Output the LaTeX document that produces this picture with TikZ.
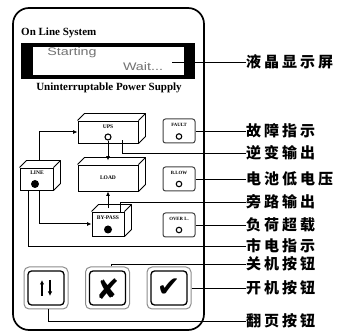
\documentclass[tikz,border=0pt]{standalone}
\usepackage{fontspec}
\setmainfont{Liberation Serif}
\newfontfamily\cjk[LetterSpace=20]{Noto Sans CJK SC}
\newfontfamily\lcdfont[FakeStretch=1.3]{Liberation Sans}
\newfontfamily\symfont{DejaVu Sans}
\usetikzlibrary{calc,arrows.meta}
\newcommand\cubesides[1]{%
  \draw[cubeline] (#1.north west) -- ++(7,-7) -- ($(#1.north east)+(7,-7)$) -- ($(#1.south east)+(7,-7)$) -- (#1.south east);
  \draw[cubeline] (#1.north east) -- ++(7,-7);}
\begin{document}
\begin{tikzpicture}[x=1pt,y=-1pt,
  cube/.style={draw, line width=0.9pt, fill=white, inner sep=0},
  cubeline/.style={line width=0.9pt, line join=round},
  tiny/.style={font=\bfseries\fontsize{5.5}{6}\selectfont, inner sep=0},
  tinyi/.style={font=\bfseries\fontsize{4.8}{5}\selectfont, inner sep=0},
  led/.style={circle, draw, line width=1.1pt, minimum size=6pt, inner sep=0},
  dot/.style={circle, fill, minimum size=8pt, inner sep=0},
  arr/.style={-{Latex[length=4.5pt,width=4pt]}, line width=1pt},
  lead/.style={line width=0.8pt},
  ind/.style={draw=black!75, line width=1pt, rounded corners=2.5pt, minimum width=32pt, minimum height=24pt, inner sep=0},
  btnout/.style={draw=black!45, line width=1pt, rounded corners=5pt, minimum width=44pt, minimum height=42pt, inner sep=0},
  btnin/.style={draw, line width=1.3pt, rounded corners=3.5pt, minimum width=36pt, minimum height=34pt, inner sep=0},
  cn/.style={anchor=west, inner sep=0, font=\cjk\bfseries\fontsize{15}{15}\selectfont},
  head/.style={font=\bfseries\fontsize{11}{12}\selectfont, inner sep=0}]
\useasboundingbox (0,0) rectangle (337,336);
% panel
\draw[line width=1.7pt, rounded corners=16pt] (13,8) rectangle (204,330);
% headings and display
\node[head, anchor=west] (ols) at (21,33) {On Line System};
\fill[black] (21,43) rectangle (195,79);
\fill[white] (33,47) rectangle (184,75);
\node[font=\lcdfont\fontsize{11}{12}\selectfont, text=black!55, inner sep=0] (st) at (72,53) {Starting};
\node[font=\lcdfont\fontsize{11}{12}\selectfont, text=black!55, inner sep=0] (wt) at (143,67) {Wait...};
\coordinate (lcdpt) at (172,62);
\node[head] (ups-title) at (109,88) {Uninterruptable Power Supply};
% cubes
\node[cube, minimum width=60pt, minimum height=22pt] (ups) at (108,132) {};
\cubesides{ups}
\node[cube, minimum width=60pt, minimum height=26pt] (load) at (108,178) {};
\cubesides{load}
\node[cube, minimum width=33pt, minimum height=22pt] (line) at (36.5,179) {};
\cubesides{line}
\node[cube, minimum width=32pt, minimum height=24pt] (bypass) at (108,224) {};
\cubesides{bypass}
\node[tiny] (tups) at (108,126.5) {UPS};
\node[led] (upsled) at (108,137) {};
\node[tiny] (tload) at (108,178) {LOAD};
\node[tiny] (tline) at (37,173) {LINE};
\node[dot] (linedot) at (35,184) {};
\node[tiny] (tbyp) at (108,218) {BY-PASS};
\node[dot] (bypdot) at (108,229.5) {};
% arrows
\draw[arr] ($(line.north)+(2.5,-7)$) |- (ups.west);
\draw[arr] ($(line.south)+(2.5,0)$) |- (bypass.west);
\draw[arr] (upsled.south) -- ($(load.north)+(0,-4)$);
\draw[arr] ($(bypass.north)+(0,-3.5)$) -- (load.south);
% indicators
\node[ind] (fault) at (179,131) {};
\node[tinyi] at (179,125) {FAULT};
\node[led, minimum size=5.5pt] (fled) at (179,136.5) {};
\node[ind] (blow) at (179,179) {};
\node[tinyi] at (179,172.5) {B.LOW};
\node[led, minimum size=5.5pt] (bled) at (179,184) {};
\node[ind] (overl) at (179,225) {};
\node[tinyi] at (179,218.5) {OVER L.};
\node[led, minimum size=5.5pt] (oled) at (179,230) {};
% buttons
\node[btnout] (b1) at (46,288) {};
\node[btnin] at (46,288) {};
\node[btnout] (b2) at (107.5,288) {};
\node[btnin] at (107.5,288) {};
\node[btnout] (b3) at (169,288) {};
\node[btnin] at (169,288) {};
\draw[-{Latex[length=4.5pt,width=4.5pt]}, line width=1.3pt] (42,296) -- (42,280);
\draw[-{Latex[length=4.5pt,width=4.5pt]}, line width=1.3pt] (50,280) -- (50,296);
\node[font=\symfont\bfseries\fontsize{28}{28}\selectfont, inner sep=0] (xs) at (107.5,289) {✘};
\node[font=\symfont\bfseries\fontsize{28}{28}\selectfont, inner sep=0] (cs) at (168.5,288) {✔};
% labels
\node[cn] (l0) at (246,62) {液晶显示屏};
\node[cn] (l1) at (246,131) {故障指示};
\node[cn] (l2) at (246,153) {逆变输出};
\node[cn] (l3) at (246,179) {电池低电压};
\node[cn] (l4) at (246,202) {旁路输出};
\node[cn] (l5) at (246,225) {负荷超载};
\node[cn] (l6) at (246,246) {市电指示};
\node[cn] (l7) at (246,264) {关机按钮};
\node[cn] (l8) at (246,288) {开机按钮};
\node[cn] (l9) at (246,321) {翻页按钮};
% leads
\draw[lead] (lcdpt) -- (l0.west);
\draw[lead] (fault.east) -- (l1.west);
\draw[lead] ($(ups.south east)+(-16,-3)$) |- (l2.west);
\draw[lead] (blow.east) -- (l3.west);
\draw[lead] ($(bypass.north east)+(-4,1)$) |- (l4.west);
\draw[lead] (overl.east) -- (l5.west);
\draw[lead] ($(line.south)+(-8.5,0)$) |- (l6.west);
\draw[lead] ($(b2.north)+(4,0)$) |- (l7.west);
\draw[lead] (b3.east) -- (l8.west);
\draw[lead] ($(b1.south)+(2,0)$) |- (l9.west);
\end{tikzpicture}
\end{document}
